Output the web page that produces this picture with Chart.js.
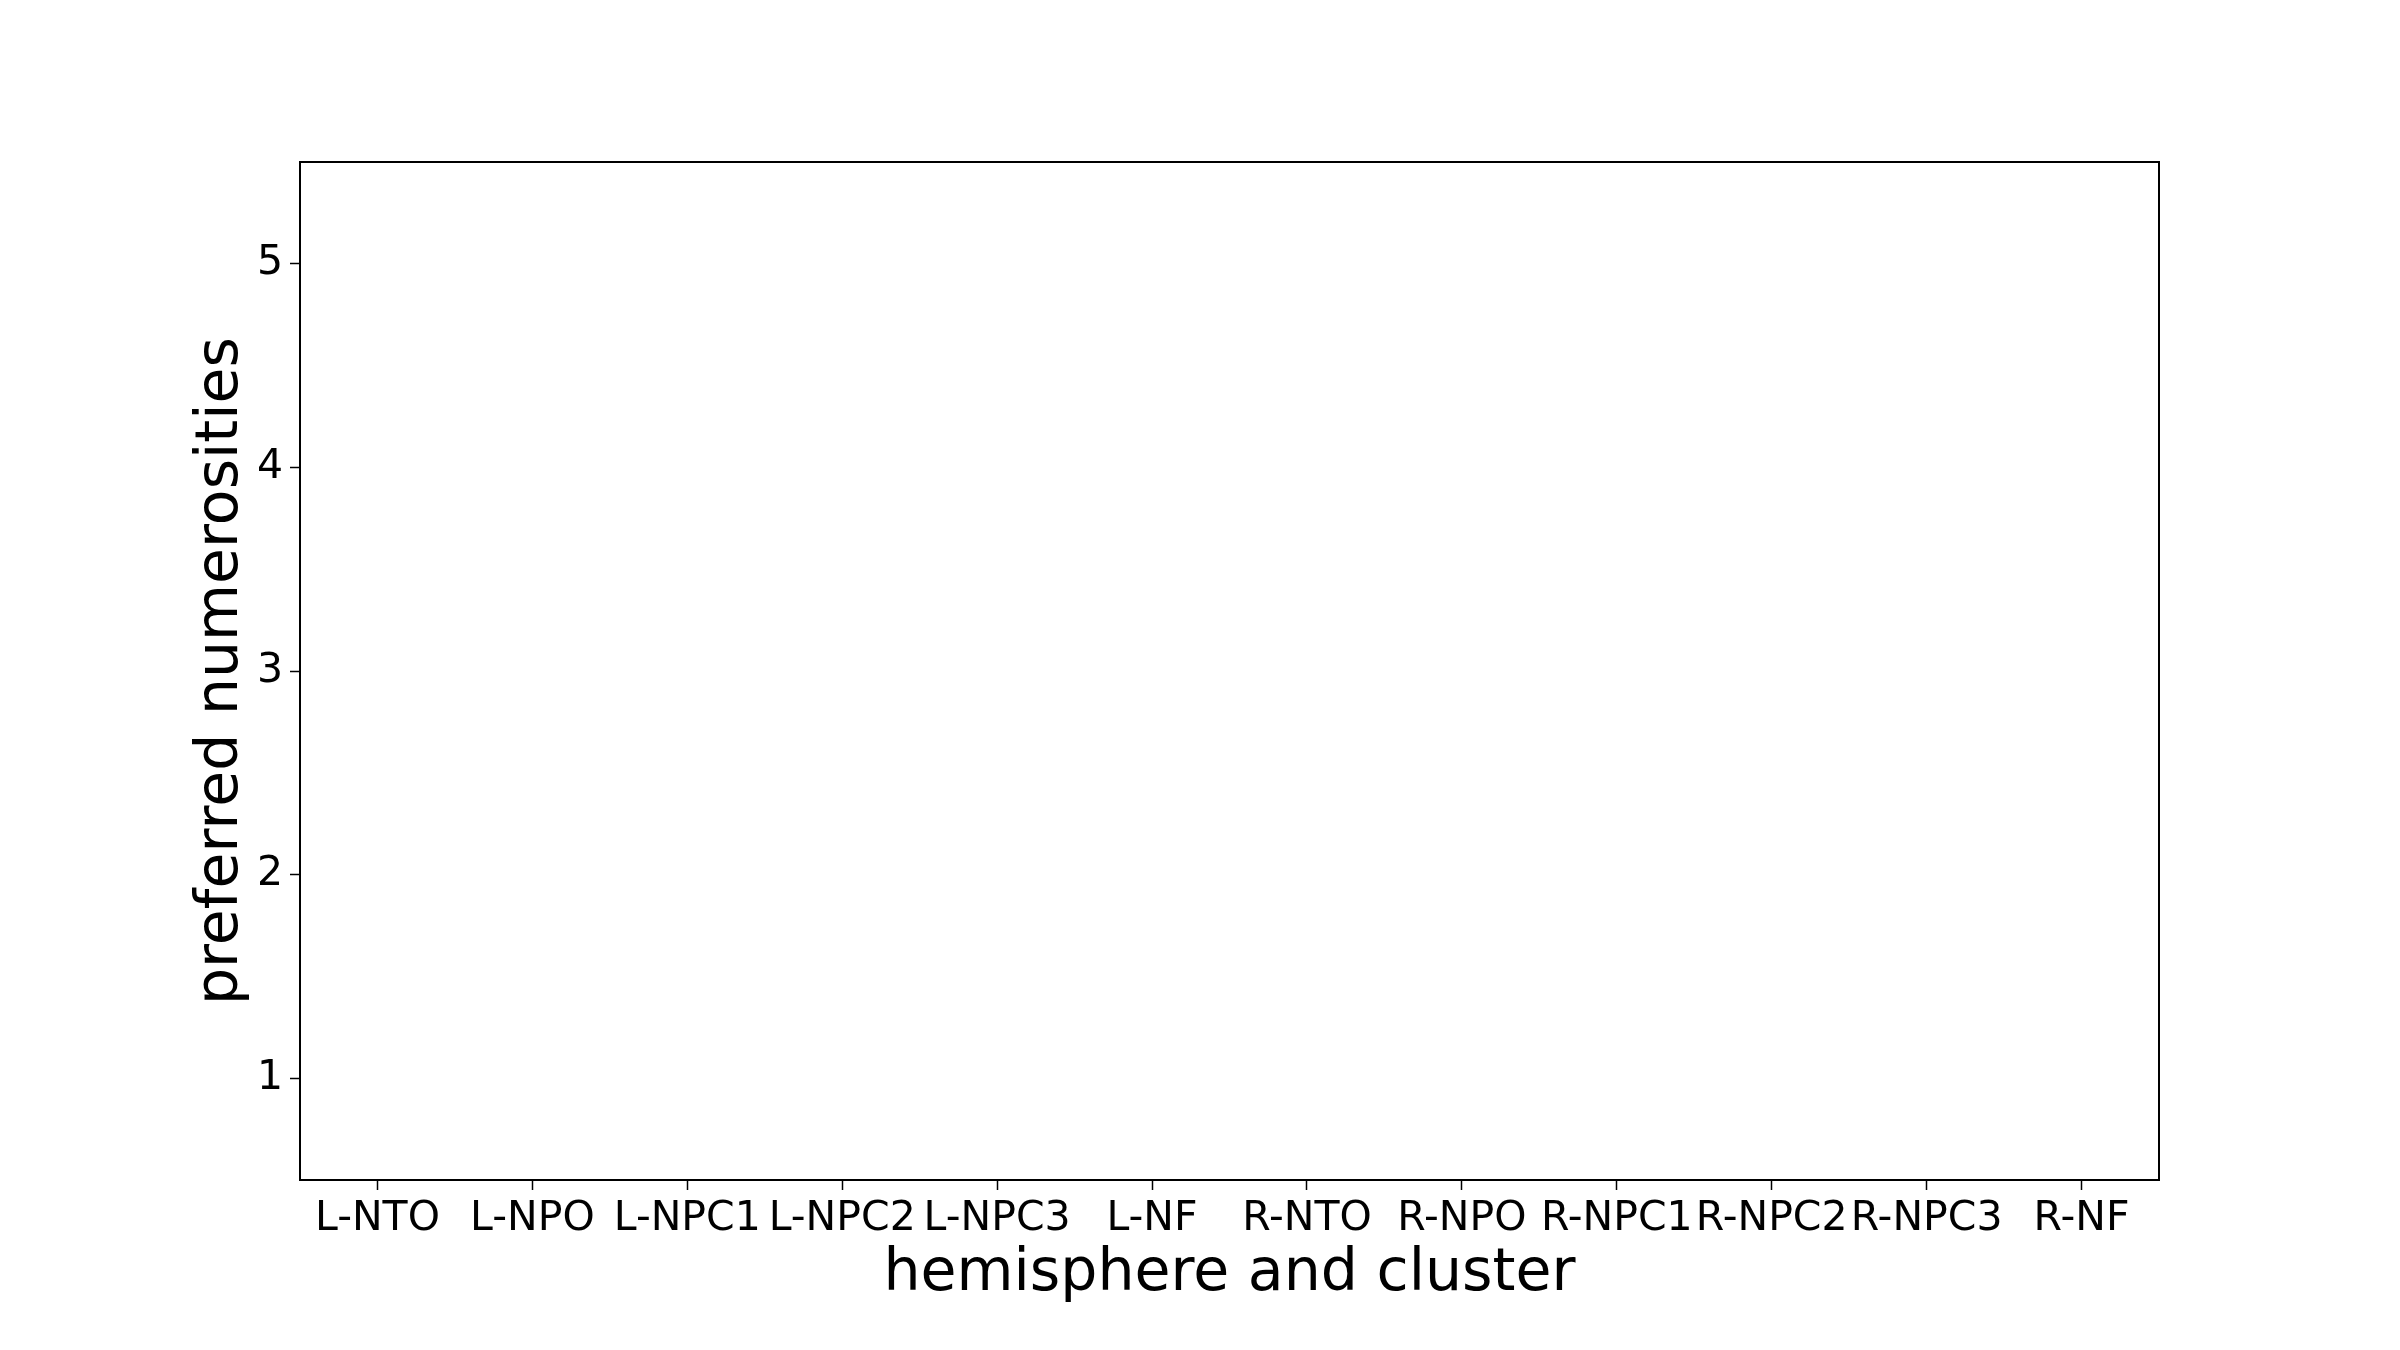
<!DOCTYPE html>
<html>
<head>
<meta charset="utf-8">
<script src="https://cdn.jsdelivr.net/npm/chart.js@4"></script>
<style>
  html, body { margin: 0; padding: 0; background: #fff; }
  #wrap { width: 2400px; height: 1350px; }
</style>
</head>
<body>
<div id="wrap"><canvas id="numChart" width="2400" height="1350"></canvas></div>
<script>
// chart data
const clusters = ['L-NTO', 'L-NPO', 'L-NPC1', 'L-NPC2', 'L-NPC3', 'L-NF',
                  'R-NTO', 'R-NPO', 'R-NPC1', 'R-NPC2', 'R-NPC3', 'R-NF'];
const preferredValues = [];   // the reference axes are empty
const yTicks = [1, 2, 3, 4, 5];
const yMin = 0.5;
const yMax = 5.5;

const fontFamily = '"DejaVu Sans", sans-serif';
const axisColor = '#000000';

// matplotlib style frame around the plot area
const frame = {
    id: 'frame',
    afterDraw(chart) {
        const a = chart.chartArea;
        const ctx = chart.ctx;
        ctx.save();
        ctx.strokeStyle = axisColor;
        ctx.lineWidth = 2;
        ctx.strokeRect(a.left, a.top, a.right - a.left, a.bottom - a.top);
        ctx.restore();
    }
};

function createChart(canvasId) {
    const ctx = document.getElementById(canvasId).getContext('2d');
    new Chart(ctx, {
        type: 'line',
        data: {
            labels: clusters,
            datasets: [{
                label: 'preferred numerosities',
                data: preferredValues,
                borderColor: '#1f77b4',
                backgroundColor: '#1f77b4'
            }]
        },
        options: {
            responsive: false,
            animation: false,
            layout: { padding: { left: 150, top: 162, right: 241, bottom: 40 } },
            plugins: {
                legend: { display: false },
                tooltip: { enabled: false }
            },
            scales: {
                x: {
                    type: 'category',
                    offset: true,
                    afterFit: (scale) => { scale.height = 1350 - 1180 - 40; },
                    border: { display: false },
                    grid: {
                        offset: false,
                        drawOnChartArea: false,
                        drawTicks: true,
                        tickLength: 10,
                        tickWidth: 1.5,
                        tickColor: axisColor
                    },
                    ticks: {
                        autoSkip: false,
                        maxRotation: 0,
                        minRotation: 0,
                        padding: 5,
                        color: axisColor,
                        font: { family: fontFamily, size: 41 }
                    },
                    title: {
                        display: true,
                        text: 'hemisphere and cluster',
                        color: axisColor,
                        padding: 0,
                        font: { family: fontFamily, size: 58.5 }
                    }
                },
                y: {
                    type: 'linear',
                    min: yMin,
                    max: yMax,
                    afterFit: (scale) => { scale.width = 150; },
                    afterBuildTicks: (scale) => { scale.ticks = yTicks.map(v => ({ value: v })); },
                    border: { display: false },
                    grid: {
                        drawOnChartArea: false,
                        drawTicks: true,
                        tickLength: 10,
                        tickWidth: 1.5,
                        tickColor: axisColor
                    },
                    ticks: {
                        padding: 7,
                        color: axisColor,
                        font: { family: fontFamily, size: 41 }
                    },
                    title: {
                        display: true,
                        text: 'preferred numerosities',
                        color: axisColor,
                        padding: { top: 37, bottom: 0 },
                        font: { family: fontFamily, size: 58.5 }
                    }
                }
            }
        },
        plugins: [frame]
    });
}

createChart('numChart');
</script>
</body>
</html>
